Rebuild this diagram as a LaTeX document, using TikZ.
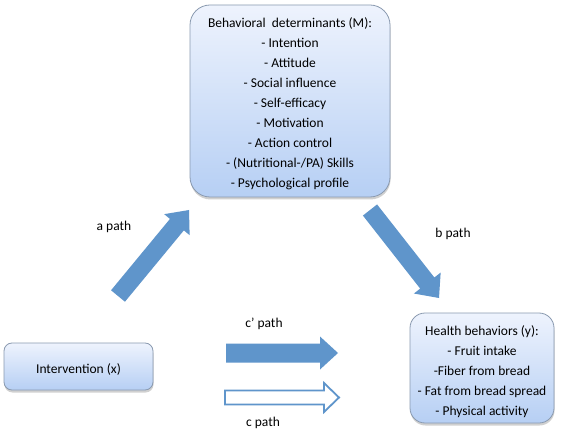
\documentclass[tikz,border=0pt]{standalone}
\usepackage{fontspec}
\setmainfont{Carlito}
\usetikzlibrary{calc,shadows}
\definecolor{arrowblue}{HTML}{5F95CB}
\definecolor{boxtop}{HTML}{EEF3FD}
\definecolor{boxbot}{HTML}{B6CFF4}
\definecolor{boxborder}{HTML}{8A9AB0}
\newcommand\blockarrow[6]{% style, start, end, half shaft, half head, head length
  \coordinate (#3-base) at ($(#3)!#6!(#2)$);
  \draw[#1] ($(#2)!#4!90:(#3)$) -- ($(#3-base)!#4!90:(#3)$) -- ($(#3-base)!#5!90:(#3)$)
    -- (#3) -- ($(#3-base)!#5!-90:(#3)$) -- ($(#3-base)!#4!-90:(#3)$)
    -- ($(#2)!#4!-90:(#3)$) -- cycle;
}
\begin{document}
\begin{tikzpicture}[x=1pt,y=-1pt,
  box/.style={draw=boxborder, line width=0.8pt, top color=boxtop, bottom color=boxbot,
    inner sep=0pt,
    drop shadow={shadow xshift=0.5pt, shadow yshift=-2.5pt, opacity=0.3, fill=black!60}},
  boxtext/.style={align=center, inner sep=0pt, font=\fontsize{13.5}{20}\selectfont},
  lbl/.style={font=\fontsize{13.5}{16}\selectfont, inner sep=0pt},
  fatarrow/.style={fill=arrowblue, draw=none},
  hollowarrow/.style={fill=white, draw=arrowblue, line width=1.8pt, line join=miter}]
\fill[white] (0,0) rectangle (567,430);
\useasboundingbox (0,0) rectangle (567,430);

\node[box, rounded corners=20pt, minimum width=200pt, minimum height=192pt] (M) at (290,101) {};
\node[boxtext] (Mt) at ($(M.center)+(0,3)$)
  {Behavioral\ \ determinants (M):\\- Intention\\- Attitude\\- Social influence\\- Self-efficacy\\- Motivation\\- Action control\\- (Nutritional-/PA) Skills\\- Psychological profile};
\node[box, rounded corners=8pt, minimum width=149pt, minimum height=47pt] (X) at (78.5,366.5) {};
\node[boxtext] (Xt) at ($(X.center)+(0,2.5)$) {Intervention (x)};
\node[box, rounded corners=15pt, minimum width=144pt, minimum height=110pt] (Y) at (482,368) {};
\node[boxtext] (Yt) at ($(Y.center)+(0,3.5)$)
  {Health behaviors (y):\\- Fruit intake\\-Fiber from bread\\- Fat from bread spread\\- Physical activity};

\coordinate (as) at (118,296);
\coordinate (ae) at (189,210);
\coordinate (bs) at (370,210);
\coordinate (be) at (439,298);
\coordinate (cps) at (226,353);
\coordinate (cpe) at (338,353);
\coordinate (cs) at (225,397.5);
\coordinate (ce) at (339,397.5);

\blockarrow{fatarrow}{as}{ae}{9pt}{16.5pt}{19pt}
\blockarrow{fatarrow}{bs}{be}{9pt}{17pt}{19pt}
\blockarrow{fatarrow}{cps}{cpe}{9.5pt}{16.5pt}{18pt}
\blockarrow{hollowarrow}{cs}{ce}{7pt}{14.5pt}{15pt}

\node[lbl] (la) at (114,227) {a path};
\node[lbl] (lb) at (453,234) {b path};
\node[lbl] (lcp) at (264,324) {c’ path};
\node[lbl] (lc) at (263,423) {c path};
\end{tikzpicture}
\end{document}
